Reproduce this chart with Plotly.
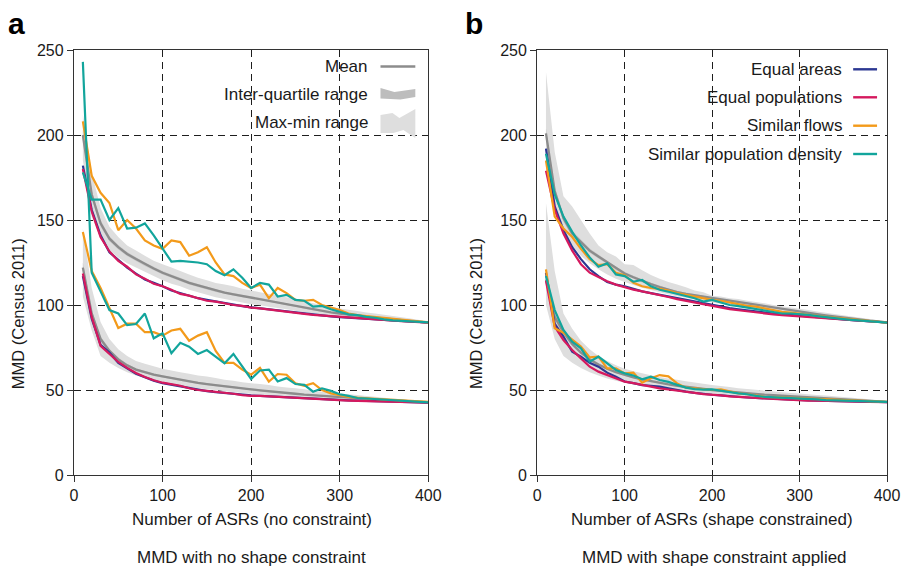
import plotly.graph_objects as go

# ---------------- data ----------------
ASRS = [10, 20, 30, 40, 50, 60, 70, 80, 90, 100, 110, 120, 130, 140, 150, 160, 170, 180, 190, 200,
        210, 220, 230, 240, 250, 260, 270, 280, 290, 300, 310, 320, 330, 340, 350, 360, 370, 380, 390, 400]

# Panel a (no shape constraint) - upper curve group
A_UP_MEAN = [200, 165, 148, 139, 134, 130, 127, 124, 121.5, 119, 117, 115, 113, 111.5, 110, 108.5, 107.3, 106.3, 105.3, 104.5,
             103.6, 102.5, 101.5, 100.5, 99.4, 98.3, 97.3, 96.5, 95.7, 95, 94.3, 93.7, 93.1, 92.6, 92.1, 91.5, 91, 90.5, 90.1, 89.7]
A_UP_IQR_HI = [203, 167.5, 150, 140.5, 135.3, 131.2, 128.1, 125, 122.5, 120, 118, 116, 113.9, 112.4, 110.9, 109.3, 108, 107, 106, 105.1,
               104.2, 103.1, 102.1, 101.1, 99.9, 98.8, 97.8, 97, 96.1, 95.4, 94.7, 94, 93.4, 92.9, 92.4, 91.8, 91.2, 90.7, 90.3, 89.9]
A_UP_IQR_LO = [197, 162.5, 146, 137.5, 132.7, 128.8, 125.9, 123, 120.5, 118, 116, 114, 112.1, 110.6, 109.1, 107.7, 106.6, 105.6, 104.6, 103.9,
               103, 101.9, 100.9, 99.9, 98.9, 97.8, 96.8, 96, 95.3, 94.6, 93.9, 93.4, 92.8, 92.3, 91.8, 91.2, 90.8, 90.3, 89.9, 89.5]
A_UP_RNG_HI = [212, 178, 157, 146, 140, 135, 132, 129, 126, 124, 122, 120, 118, 116, 114.5, 113, 112, 111, 109.5, 108.5,
               107.5, 106.5, 105.5, 104.5, 103.5, 102.2, 101, 100, 99, 98, 97.2, 96.4, 95.6, 95, 94.2, 93.5, 92.8, 92, 91.2, 90.4]
A_UP_RNG_LO = [185, 152, 139, 132, 128, 124.5, 122, 119.5, 117, 114.5, 112.5, 111, 109, 107.5, 106, 104.5, 103.5, 102.5, 101.5, 100.5,
               99.8, 99, 98.2, 97.5, 96.6, 95.8, 95, 94.3, 93.6, 93, 92.4, 91.9, 91.4, 91, 90.6, 90.2, 89.9, 89.6, 89.4, 89.2]
A_UP_BLUE = [182, 156, 141, 131, 126.5, 122, 118.5, 115, 113, 111, 108.5, 107, 105.5, 104, 103, 102, 101, 100, 99.3, 98.6,
             98, 97.2, 96.6, 96, 95.4, 94.8, 94.3, 93.8, 93.3, 92.9, 92.5, 92.2, 91.8, 91.5, 91.2, 90.9, 90.6, 90.3, 90, 89.7]
A_UP_MAG = [180, 155, 140, 131.5, 126, 122.5, 118, 115.5, 112.5, 111, 109, 106.5, 105.5, 104, 102.5, 102, 100.8, 100, 99.5, 98.5,
            98, 97.3, 96.5, 96, 95.3, 94.8, 94.2, 93.8, 93.3, 93, 92.5, 92.1, 91.8, 91.4, 91.1, 90.8, 90.5, 90.2, 89.9, 89.6]
A_UP_ORG = [208, 176, 166, 160, 144, 150, 145, 138, 135, 133, 138, 137, 129, 131, 134, 125, 118, 117, 113, 110,
            112, 104, 110, 107, 103, 102.5, 103, 100, 98.5, 97, 95, 94, 93.5, 93, 92.5, 92, 91.3, 90.8, 90.3, 89.8]
A_UP_TEAL = [178, 162, 162, 150, 157, 145, 145.5, 148, 141, 133, 125.5, 126, 125.5, 125, 124, 120, 117.5, 121, 116, 110,
             113, 112, 105, 106, 103, 102.5, 99, 99.5, 97.5, 96, 94.5, 94, 93, 92.5, 91.5, 91, 90.8, 90.5, 90.2, 89.8]

# Panel a - lower curve group
A_LO_MEAN = [122, 95, 80, 73, 68, 64.5, 62, 60.5, 59, 58, 57, 56, 55, 54.2, 53.5, 52.8, 52.2, 51.6, 51, 50.4,
             49.8, 49.2, 48.7, 48.2, 47.8, 47.3, 46.9, 46.5, 46.1, 45.7, 45.4, 45.1, 44.8, 44.5, 44.2, 43.9, 43.6, 43.3, 43.1, 42.8]
A_LO_IQR_HI = [125, 97, 81.5, 74.2, 69.1, 65.4, 62.8, 61.2, 59.7, 58.7, 57.6, 56.6, 55.6, 54.8, 54.1, 53.4, 52.8, 52.2, 51.5, 50.9,
               50.3, 49.7, 49.2, 48.7, 48.2, 47.7, 47.3, 46.9, 46.5, 46, 45.7, 45.4, 45.1, 44.8, 44.5, 44.2, 43.8, 43.5, 43.3, 43]
A_LO_IQR_LO = [119, 93, 78.5, 71.8, 66.9, 63.6, 61.2, 59.8, 58.3, 57.3, 56.4, 55.4, 54.4, 53.6, 52.9, 52.2, 51.6, 51, 50.5, 49.9,
               49.3, 48.7, 48.2, 47.7, 47.4, 46.9, 46.5, 46.1, 45.7, 45.4, 45.1, 44.8, 44.5, 44.2, 43.9, 43.6, 43.4, 43.1, 42.9, 42.6]
A_LO_RNG_HI = [145, 110, 90, 80, 74, 70, 67, 65.5, 64, 62.5, 61.5, 60.5, 59.5, 58.5, 58, 57, 56, 55.5, 54.5, 54,
               53.5, 53, 52, 51.5, 51, 50.5, 49.5, 49, 48.5, 48, 47.5, 47, 46.5, 46, 45.5, 45, 44.5, 44, 43.6, 43.2]
A_LO_RNG_LO = [105, 85, 70, 66, 63, 60.5, 58.5, 57, 55.5, 54.5, 53.5, 52.5, 51.8, 51, 50.5, 50, 49.3, 48.8, 48.3, 47.8,
               47.3, 46.8, 46.3, 46, 45.6, 45.2, 44.9, 44.6, 44.3, 44, 43.8, 43.6, 43.4, 43.2, 43, 42.9, 42.7, 42.6, 42.5, 42.4]
A_LO_BLUE = [117, 92, 76.5, 72, 66, 62.5, 59.5, 57.5, 55.5, 54, 53, 52.2, 51, 50, 49.3, 48.8, 48.3, 47.7, 47, 46.8,
             46.6, 46.3, 46, 45.6, 45.3, 45.1, 44.9, 44.6, 44.3, 44.1, 43.9, 43.7, 43.5, 43.3, 43.2, 43.1, 43, 42.8, 42.7, 42.6]
A_LO_MAG = [118.5, 93, 76, 71.5, 66.5, 63, 60, 57.7, 55.7, 54.3, 53.3, 52.5, 51, 50, 49.5, 49, 48.5, 47.8, 47, 46.5,
            46.5, 46.2, 45.8, 45.5, 45.2, 45, 44.8, 44.5, 44.2, 44, 43.8, 43.6, 43.4, 43.2, 43.1, 43, 42.9, 42.8, 42.7, 42.6]
A_LO_ORG = [143, 120, 110, 98, 86.5, 89, 89, 84, 84, 82, 85, 86, 79, 82, 84, 73, 66, 66, 62, 59,
            63, 55, 59.4, 59, 54, 52.5, 54, 50, 48, 47, 46, 45.5, 45, 44.8, 44.5, 44.2, 44, 43.6, 43.3, 43]
A_LO_TEAL = [243, 119, 108, 97, 95, 88.2, 88.8, 95, 80.4, 83.3, 71.6, 77.8, 75.5, 71.2, 73.5, 69.6, 65.7, 71.2, 63.7, 56.5,
             61.5, 62, 55, 57, 53.5, 53, 49, 51, 49.5, 47.5, 46.5, 45.3, 45, 44.6, 44.3, 44, 43.5, 43.2, 43, 42.7]

# Panel b (shape constrained) - upper curve group
B_UP_MEAN = [201, 167, 151, 142, 137, 132, 128.5, 125, 121.5, 118.5, 116.3, 114.2, 112.3, 110.6, 109, 107.6, 106.6, 105.8, 104.8, 103.8,
             103, 102.2, 101.5, 100.8, 100, 99.2, 98.4, 97.6, 96.8, 96, 95.3, 94.6, 93.9, 93.2, 92.6, 92, 91.4, 90.8, 90.3, 89.7]
B_UP_IQR_HI = [204, 169.5, 153, 143.8, 138.5, 133.3, 129.7, 126.1, 122.6, 119.5, 117.2, 115.1, 113.1, 111.4, 109.7, 108.3, 107.3, 106.4, 105.4, 104.4,
               103.6, 102.8, 102.1, 101.4, 100.5, 99.7, 98.9, 98.1, 97.3, 96.5, 95.8, 95.1, 94.3, 93.6, 93, 92.4, 91.8, 91.1, 90.6, 90]
B_UP_IQR_LO = [198, 164.5, 149, 140.2, 135.5, 130.7, 127.3, 123.9, 120.4, 117.5, 115.4, 113.3, 111.5, 109.8, 108.3, 106.9, 105.9, 105.2, 104.2, 103.2,
               102.4, 101.6, 100.9, 100.2, 99.5, 98.7, 97.9, 97.1, 96.3, 95.5, 94.8, 94.1, 93.5, 92.8, 92.2, 91.6, 91, 90.5, 90, 89.4]
B_UP_RNG_HI = [237, 190, 164, 158, 150, 142, 135, 131, 128.5, 124, 123.5, 120.5, 117.6, 115.5, 113.5, 112, 110.5, 108.5, 107.5, 105.5,
               105, 104, 103.5, 102.5, 101.8, 101, 100, 99.3, 98.5, 97.8, 97, 96.2, 95.4, 94.7, 94, 93.2, 92.5, 91.7, 91, 90.3]
B_UP_RNG_LO = [180, 158, 143, 135, 129, 124.5, 121, 118, 115.5, 113.5, 111.8, 110.2, 108.8, 107.5, 106.3, 105.2, 104.2, 103.2, 102.3, 101.5,
               100.7, 100, 99.3, 98.6, 97.9, 97.2, 96.5, 95.8, 95.2, 94.5, 93.9, 93.3, 92.7, 92.1, 91.6, 91.1, 90.6, 90.1, 89.7, 89.3]
B_UP_BLUE = [192, 158, 144, 134, 127, 121, 117, 113.5, 112, 111, 109.5, 108, 107, 106, 104.8, 103.8, 102.8, 101.8, 100.8, 99.8,
             99, 98.2, 97.5, 96.8, 96.2, 95.5, 95, 94.6, 94.1, 93.6, 93.2, 92.7, 92.3, 91.9, 91.5, 91.1, 90.7, 90.3, 90, 89.7]
B_UP_MAG = [179, 156, 142, 132, 124, 119, 116.5, 114, 112, 110.5, 109, 108, 107, 105.8, 104.7, 103.5, 102.5, 101.5, 100.3, 99.4,
            98.4, 97.6, 96.9, 96.2, 95.6, 95, 94.5, 94, 93.6, 93.3, 92.9, 92.5, 92.1, 91.8, 91.4, 91, 90.7, 90.3, 90, 89.7]
B_UP_ORG = [185, 152, 145, 140, 133, 127, 123.5, 124, 119, 117.5, 113, 111, 110, 109.5, 108.5, 107, 106, 105, 104, 103,
            102.5, 101.5, 100.5, 99.5, 99, 98, 97, 96, 95.5, 95, 94.3, 93.6, 93, 92.5, 91.8, 91.3, 90.8, 90.4, 90, 89.6]
B_UP_TEAL = [189, 165, 152, 143, 135, 128, 122.5, 124.5, 118, 117, 113.7, 114.7, 111, 109, 107.8, 106.5, 105.5, 104, 102, 103,
             101.5, 100, 99.3, 98.5, 97.8, 97, 96, 95, 95, 94.8, 94.2, 93.5, 92.8, 92.3, 91.7, 91.2, 90.8, 90.4, 90, 89.6]

# Panel b - lower curve group
B_LO_MEAN = [115, 93, 84, 77, 72, 68, 65, 62.5, 60.5, 58.8, 57.4, 56.2, 55.1, 54.2, 53.3, 52.5, 51.8, 51.1, 50.5, 50,
             49.5, 49, 48.5, 48.1, 47.7, 47.3, 47, 46.7, 46.3, 46, 45.7, 45.4, 45.1, 44.8, 44.5, 44.2, 43.9, 43.6, 43.3, 43]
B_LO_IQR_HI = [118, 95, 85.5, 78.2, 73, 68.9, 65.8, 63.2, 61.1, 59.4, 57.9, 56.7, 55.6, 54.6, 53.7, 52.9, 52.2, 51.5, 50.9, 50.4,
               49.9, 49.4, 48.9, 48.5, 48.1, 47.7, 47.3, 47, 46.6, 46.3, 46, 45.7, 45.4, 45.1, 44.8, 44.5, 44.2, 43.9, 43.5, 43.2]
B_LO_IQR_LO = [112, 91, 82.5, 75.8, 71, 67.1, 64.2, 61.8, 59.9, 58.2, 56.9, 55.7, 54.6, 53.8, 52.9, 52.1, 51.4, 50.7, 50.1, 49.6,
               49.1, 48.6, 48.1, 47.7, 47.3, 46.9, 46.7, 46.4, 46, 45.7, 45.4, 45.1, 44.8, 44.5, 44.2, 43.9, 43.6, 43.3, 43.1, 42.8]
B_LO_RNG_HI = [160, 120, 95, 86, 79, 74, 70, 67, 64.5, 62.5, 61, 59.8, 58.7, 57.7, 56.8, 56, 55.2, 54.4, 53.7, 53,
               52.3, 51.7, 51.1, 50.6, 50.1, 49.6, 49.1, 48.7, 48.3, 47.9, 47.5, 47.1, 46.7, 46.3, 45.9, 45.5, 45, 44.5, 44, 43.5]
B_LO_RNG_LO = [100, 80, 70, 66, 63, 60.5, 58.5, 56.8, 55.4, 54.3, 53.3, 52.5, 51.7, 51, 50.4, 49.8, 49.2, 48.7, 48.2, 47.8,
               47.4, 47, 46.6, 46.3, 46, 45.7, 45.4, 45.1, 44.8, 44.5, 44.3, 44.1, 43.9, 43.7, 43.5, 43.3, 43.1, 42.9, 42.7, 42.5]
B_LO_BLUE = [119, 89, 81.4, 72.5, 69.6, 66, 63.7, 60.2, 57.8, 55, 54, 52.9, 52.5, 52, 51, 49.8, 49, 48.3, 47.6, 47.2,
             46.8, 46.3, 46, 45.6, 45.3, 45, 44.8, 44.5, 44.3, 44.1, 43.9, 43.8, 43.6, 43.5, 43.4, 43.3, 43.2, 43.1, 43, 42.9]
B_LO_MAG = [114.3, 87.3, 79.4, 73.5, 68.6, 63.7, 60.8, 58.8, 56.9, 54.9, 54, 52.9, 52, 51, 50.3, 49.5, 49, 48.3, 47.6, 47.3,
            46.8, 46.2, 45.8, 45.5, 45.2, 45, 44.7, 44.4, 44.2, 44, 43.8, 43.7, 43.5, 43.4, 43.3, 43.2, 43.1, 43, 42.9, 42.8]
B_LO_ORG = [121, 86.3, 83.7, 79.4, 75.5, 69.2, 69.6, 62.7, 62.7, 59.8, 60.2, 54.3, 56.9, 58.8, 58, 53.9, 51.4, 51, 50.5, 50,
            50.4, 49, 48, 47.5, 46.8, 46, 45.8, 45.6, 45.3, 45.1, 44.8, 44.5, 44.2, 44, 43.8, 43.6, 43.4, 43.2, 43.1, 43]
B_LO_TEAL = [117, 97, 85.3, 78.4, 74.5, 66.7, 69.6, 65.7, 61.8, 59.8, 58.5, 56.3, 57.8, 55.9, 54.8, 53, 51.4, 50.5, 50.2, 50.4,
             49.5, 48.5, 48, 47.5, 46.5, 46, 45.8, 45.5, 45.3, 45.1, 44.8, 44.5, 44.1, 43.9, 43.7, 43.5, 43.4, 43.2, 43.1, 43]

LEGEND_A = ["Mean", "Inter-quartile range", "Max-min range"]
LEGEND_B = ["Equal areas", "Equal populations", "Similar flows", "Similar population density"]
X_TICKS = [0, 100, 200, 300, 400]
Y_TICKS = [0, 50, 100, 150, 200, 250]

# ---------------- style ----------------
BLUE, MAG, ORG, TEAL = "#2c3892", "#d5195e", "#f39a1a", "#12a59c"
MEAN_C, IQR_C, RNG_C = "#8c8c8c", "#c8c8c8", "#dedede"
FONT = "Liberation Sans, Arial, Helvetica, sans-serif"

W, H = 912, 568
L, R, T, B = 74, 21, 50, 93
PW, PH = W - L - R, H - T - B


def px(xp):
    return (xp - L) / PW


def py(yp):
    return (H - B - yp) / PH


fig = go.Figure()


def band(xa, ya, lo, hi, color):
    fig.add_trace(go.Scatter(x=ASRS + ASRS[::-1], y=hi + lo[::-1], xaxis=xa, yaxis=ya,
                             fill="toself", fillcolor=color, mode="none",
                             line=dict(width=0), showlegend=False, hoverinfo="skip"))


def line(xa, ya, vals, color, width=2.2):
    fig.add_trace(go.Scatter(x=ASRS, y=vals, xaxis=xa, yaxis=ya, mode="lines",
                             line=dict(color=color, width=width), showlegend=False))


groups = [
    ("x", "y", A_UP_MEAN, A_UP_IQR_LO, A_UP_IQR_HI, A_UP_RNG_LO, A_UP_RNG_HI, A_UP_BLUE, A_UP_MAG, A_UP_ORG, A_UP_TEAL),
    ("x", "y", A_LO_MEAN, A_LO_IQR_LO, A_LO_IQR_HI, A_LO_RNG_LO, A_LO_RNG_HI, A_LO_BLUE, A_LO_MAG, A_LO_ORG, A_LO_TEAL),
    ("x2", "y2", B_UP_MEAN, B_UP_IQR_LO, B_UP_IQR_HI, B_UP_RNG_LO, B_UP_RNG_HI, B_UP_BLUE, B_UP_MAG, B_UP_ORG, B_UP_TEAL),
    ("x2", "y2", B_LO_MEAN, B_LO_IQR_LO, B_LO_IQR_HI, B_LO_RNG_LO, B_LO_RNG_HI, B_LO_BLUE, B_LO_MAG, B_LO_ORG, B_LO_TEAL),
]
for g in groups:
    band(g[0], g[1], g[5], g[6], RNG_C)
for g in groups:
    band(g[0], g[1], g[3], g[4], IQR_C)
for g in groups:
    line(g[0], g[1], g[2], MEAN_C, 2.3)
for g in groups:
    xa, ya = g[0], g[1]
    line(xa, ya, g[7], BLUE)
    line(xa, ya, g[8], MAG)
    line(xa, ya, g[9], ORG)
    line(xa, ya, g[10], TEAL)

axis_common = dict(showgrid=True, gridcolor="#1e1e1e", gridwidth=1, griddash="7px,5px",
                   zeroline=False, showline=True, linecolor="#333333", linewidth=1.3, mirror=True,
                   ticks="outside", ticklen=6, tickwidth=1, tickcolor="#333333",
                   tickfont=dict(family=FONT, size=16, color="#1a1a1a"))

fig.update_layout(
    width=W, height=H, margin=dict(l=L, r=R, t=T, b=B),
    paper_bgcolor="white", plot_bgcolor="white", showlegend=False,
    font=dict(family=FONT, color="#1a1a1a"),
    xaxis=dict(domain=[0, px(430)], range=[0, 400], tickvals=X_TICKS, anchor="y", **axis_common),
    yaxis=dict(domain=[0, 1], range=[0, 250], tickvals=Y_TICKS, anchor="x", **axis_common),
    xaxis2=dict(domain=[px(539.5), 1], range=[0, 400], tickvals=X_TICKS, anchor="y2", **axis_common),
    yaxis2=dict(domain=[0, 1], range=[0, 250], tickvals=Y_TICKS, anchor="x2", **axis_common),
)

shapes = []
# white boxes behind the legends (hide the grid there)
shapes.append(dict(type="rect", xref="paper", yref="paper", x0=px(209), x1=px(429), y0=py(151), y1=py(51),
                   fillcolor="white", line=dict(width=0), layer="between"))
shapes.append(dict(type="rect", xref="paper", yref="paper", x0=px(629), x1=px(890), y0=py(172), y1=py(51),
                   fillcolor="white", line=dict(width=0), layer="between"))


def path(points):
    return "M " + " L ".join(f"{px(a):.5f},{py(b):.5f}" for a, b in points) + " Z"


# legend a symbols
shapes.append(dict(type="line", xref="paper", yref="paper", x0=px(382), x1=px(417), y0=py(66.5), y1=py(66.5),
                   line=dict(color=MEAN_C, width=2.4)))
shapes.append(dict(type="path", xref="paper", yref="paper",
                   path=path([(382, 88), (396, 92), (417, 89), (417, 97), (402, 99.5), (382, 98.5)]),
                   fillcolor="#bdbdbd", line=dict(width=0)))
shapes.append(dict(type="path", xref="paper", yref="paper",
                   path=path([(382, 115), (394, 113), (401, 118), (417, 109), (417, 138), (405, 130), (395, 133), (382, 133)]),
                   fillcolor=RNG_C, line=dict(width=0)))
# legend b symbols
for yy, c in zip([69.3, 97.3, 125.7, 154], [BLUE, MAG, ORG, TEAL]):
    shapes.append(dict(type="line", xref="paper", yref="paper", x0=px(857), x1=px(881), y0=py(yy), y1=py(yy),
                       line=dict(color=c, width=2.4)))
fig.update_layout(shapes=shapes)

ann = []
for txt, yy in zip(LEGEND_A, [66.5, 94.5, 122.5]):
    ann.append(dict(text=txt, x=px(371), y=py(yy), xref="paper", yref="paper", xanchor="right", yanchor="middle",
                    showarrow=False, font=dict(family=FONT, size=17, color="#1a1a1a")))
for txt, yy in zip(LEGEND_B, [69.3, 97.3, 125.7, 154]):
    ann.append(dict(text=txt, x=px(848), y=py(yy), xref="paper", yref="paper", xanchor="right", yanchor="middle",
                    showarrow=False, font=dict(family=FONT, size=17, color="#1a1a1a")))
# axis titles
for xc in [18, 478]:
    ann.append(dict(text="MMD (Census 2011)", x=px(xc), y=py(314), xref="paper", yref="paper", textangle=-90,
                    xanchor="center", yanchor="middle", showarrow=False, font=dict(family=FONT, size=16.5)))
ann.append(dict(text="Number of ASRs (no constraint)", x=px(253), y=py(519), xref="paper", yref="paper",
                xanchor="center", yanchor="middle", showarrow=False, font=dict(family=FONT, size=17)))
ann.append(dict(text="Number of ASRs (shape constrained)", x=px(715), y=py(519), xref="paper", yref="paper",
                xanchor="center", yanchor="middle", showarrow=False, font=dict(family=FONT, size=17)))
ann.append(dict(text="MMD with no shape constraint", x=px(252), y=py(557), xref="paper", yref="paper",
                xanchor="center", yanchor="middle", showarrow=False, font=dict(family=FONT, size=17)))
ann.append(dict(text="MMD with shape constraint applied", x=px(718), y=py(557), xref="paper", yref="paper",
                xanchor="center", yanchor="middle", showarrow=False, font=dict(family=FONT, size=17)))
ann.append(dict(text="<b>a</b>", x=px(16), y=py(24), xref="paper", yref="paper",
                xanchor="center", yanchor="middle", showarrow=False, font=dict(family=FONT, size=30, color="black")))
ann.append(dict(text="<b>b</b>", x=px(476), y=py(24), xref="paper", yref="paper",
                xanchor="center", yanchor="middle", showarrow=False, font=dict(family=FONT, size=30, color="black")))
fig.update_layout(annotations=ann)

fig.write_html("out.html", config={"displayModeBar": False},
               post_script="document.body.style.margin='0';document.body.style.padding='0';"
                           "document.body.style.overflow='hidden';")
